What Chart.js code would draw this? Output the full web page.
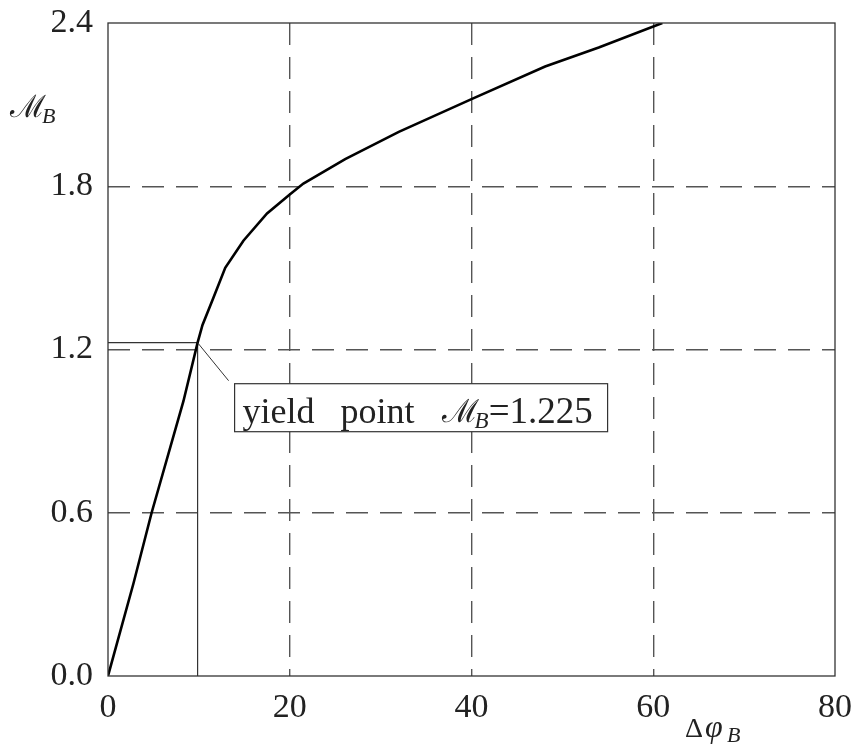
<!DOCTYPE html>
<html>
<head>
<meta charset="utf-8">
<script src="https://cdn.jsdelivr.net/npm/chart.js@4.4.1/dist/chart.umd.min.js"></script>
<style>body{margin:0;background:#fff}</style>
</head>
<body>
<canvas id="chart" width="858" height="752"></canvas>
<script>
// moment-rotation curve
const rotation = [0, 2.8, 4.8, 8.3, 9.86, 10.4, 11.6, 12.9, 14.9, 17.5, 20.0, 21.5, 26.1, 32.0, 40.0, 48.1, 54.0, 61.0];
const moment = [0, 0.34, 0.60, 1.01, 1.225, 1.29, 1.39, 1.50, 1.60, 1.70, 1.77, 1.81, 1.90, 2.00, 2.12, 2.24, 2.31, 2.40];
const yieldX = 9.86;
const yieldY = 1.225;
const xTicks = [0, 20, 40, 60, 80];
const yTicks = [0, 0.6, 1.2, 1.8, 2.4];

const serif = '"Liberation Serif", "DejaVu Serif", serif';

function edgeColor(ticks) {
  return ctx => {
    const v = ctx.tick ? ctx.tick.value : null;
    if (v === ticks[0] || v === ticks[ticks.length - 1]) return 'rgba(0,0,0,0)';
    return '#555';
  };
}

// script M with italic subscript B, returns end x
function drawMB(ctx, x, y, size) {
  ctx.font = size + 'px "DejaVu Serif"';
  ctx.fillText('\u2133', x, y);
  x += ctx.measureText('\u2133').width - 4;
  ctx.font = 'italic ' + Math.round(size * 0.72) + 'px ' + serif;
  ctx.fillText('B', x, y + 6);
  return x + ctx.measureText('B').width;
}

const decorations = {
  id: 'decorations',
  afterDatasetsDraw(chart) {
    const {ctx, chartArea: a, scales: {x, y}} = chart;
    ctx.save();
    ctx.strokeStyle = '#333';
    ctx.lineWidth = 1.3;
    ctx.strokeRect(a.left, a.top, a.right - a.left, a.bottom - a.top);

    // leader line and label box for the yield point
    const px = x.getPixelForValue(yieldX);
    const py = y.getPixelForValue(yieldY);
    const bx = px + 37, by = py + 41, bw = 373, bh = 48;
    ctx.lineWidth = 1;
    ctx.beginPath();
    ctx.moveTo(px, py);
    ctx.lineTo(bx - 6, by - 3);
    ctx.stroke();
    ctx.fillStyle = '#fff';
    ctx.fillRect(bx, by, bw, bh);
    ctx.lineWidth = 1.2;
    ctx.strokeRect(bx, by, bw, bh);

    ctx.fillStyle = '#222';
    ctx.textBaseline = 'alphabetic';
    ctx.textAlign = 'left';
    const base = by + 39;
    ctx.font = '36px ' + serif;
    ctx.fillText('yield', bx + 8, base);
    ctx.fillText('point', bx + 106, base);
    const end = drawMB(ctx, bx + 207, base - 1, 32);
    ctx.font = '37px ' + serif;
    ctx.fillText('=1.225', end, base);

    // axis titles
    drawMB(ctx, 10, 117, 31);
    ctx.font = '28px ' + serif;
    ctx.fillText('\u0394', 685, 737);
    ctx.font = 'italic 32px ' + serif;
    ctx.fillText('\u03c6', 705, 737);
    ctx.font = 'italic 22px ' + serif;
    ctx.fillText('B', 727, 742);
    ctx.restore();
  }
};

new Chart(document.getElementById('chart'), {
  type: 'scatter',
  data: {
    datasets: [{
      data: rotation.map((r, i) => ({x: r, y: moment[i]})),
      showLine: true,
      borderColor: '#000',
      borderWidth: 2.6,
      pointRadius: 0,
      tension: 0
    }, {
      data: [{x: 0, y: yieldY}, {x: yieldX, y: yieldY}, {x: yieldX, y: 0}],
      showLine: true,
      borderColor: '#333',
      borderWidth: 1.2,
      pointRadius: 0
    }]
  },
  options: {
    responsive: false,
    animation: false,
    layout: {padding: {top: 23, right: 23, left: 0, bottom: 0}},
    plugins: {legend: {display: false}, tooltip: {enabled: false}},
    scales: {
      x: {
        min: 0, max: 80,
        afterBuildTicks: s => { s.ticks = xTicks.map(v => ({value: v})); },
        afterFit: s => { s.height = 76; s.paddingLeft = 0; s.paddingRight = 0; },
        grid: {color: edgeColor(xTicks), lineWidth: 1.4, drawTicks: false},
        border: {display: false, dash: [22, 12]},
        ticks: {color: '#222', padding: 12, font: {family: serif, size: 34}, maxRotation: 0}
      },
      y: {
        min: 0, max: 2.4,
        afterBuildTicks: s => { s.ticks = yTicks.map(v => ({value: v})); },
        afterFit: s => { s.width = 108; s.paddingTop = 0; s.paddingBottom = 0; },
        grid: {color: edgeColor(yTicks), lineWidth: 1.4, drawTicks: false},
        border: {display: false, dash: [22, 12]},
        ticks: {color: '#222', padding: 15, font: {family: serif, size: 34}, callback: v => Number(v).toFixed(1)}
      }
    }
  },
  plugins: [decorations]
});
</script>
</body>
</html>
